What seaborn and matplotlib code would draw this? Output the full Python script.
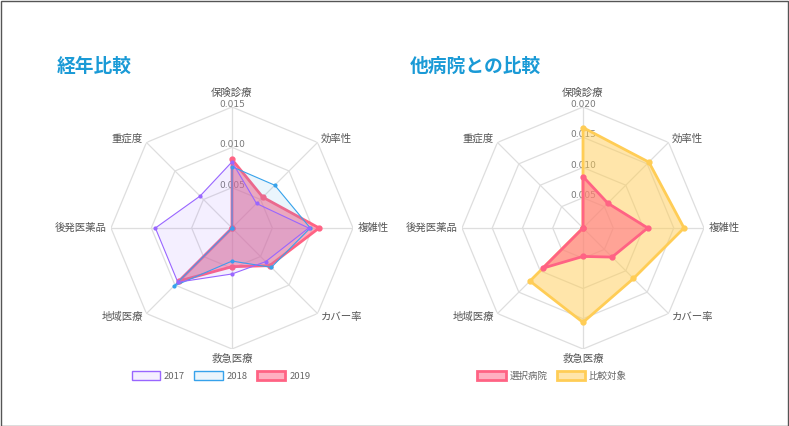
import numpy as np
import matplotlib
matplotlib.use("Agg")
import matplotlib.pyplot as plt
import seaborn as sns
from matplotlib.patches import Patch, Rectangle

sns.set_theme(style="white")
plt.rcParams['font.family'] = ['Noto Sans CJK JP', 'DejaVu Sans']

categories = ["保険診療", "効率性", "複雑性", "カバー率", "救急医療", "地域医療", "後発医薬品", "重症度"]

y2017 = [0.0082, 0.0043, 0.0095, 0.0059, 0.0057, 0.0095, 0.0095, 0.0056]
y2018 = [0.0076, 0.0075, 0.0097, 0.0069, 0.0041, 0.0102, 0.0, 0.0]
y2019 = [0.0085, 0.0054, 0.0108, 0.0066, 0.0048, 0.0093, 0.0, 0.0]

selected = [0.0085, 0.0058, 0.0107, 0.0068, 0.0047, 0.0094, 0.0, 0.0]
compare = [0.0166, 0.0154, 0.0167, 0.0118, 0.0156, 0.0124, 0.0, 0.0]

left_ticks = [0.005, 0.010, 0.015]
right_ticks = [0.005, 0.010, 0.015, 0.020]

W, H = 789, 426
fig = plt.figure(figsize=(W / 100, H / 100), dpi=100)
fig.patch.set_facecolor("white")
fig.add_artist(Rectangle((0.5 / W, 0.5 / H), 1 - 1.5 / W, 1 - 1.5 / H, transform=fig.transFigure,
                         fill=False, edgecolor="#555555", lw=1))

n = len(categories)
theta = np.arange(n) * 2 * np.pi / n
theta_c = np.append(theta, theta[0])

GRID = "#dedede"
TXT = "#555555"


def make_ax(cx, cy, rpx, ticks):
    ax = fig.add_axes([(cx - rpx) / W, (H - cy - rpx) / H, 2 * rpx / W, 2 * rpx / H], projection="polar")
    ax.set_theta_zero_location("N")
    ax.set_theta_direction(-1)
    rmax = ticks[-1]
    ax.set_ylim(0, rmax)
    ax.grid(False)
    ax.spines["polar"].set_visible(False)
    ax.set_xticks([])
    ax.set_yticks([])
    ax.patch.set_alpha(0)
    for r in ticks:
        ax.plot(theta_c, [r] * (n + 1), color=GRID, lw=0.9, zorder=1)
    for t in theta:
        ax.plot([t, t], [0, rmax], color=GRID, lw=0.9, zorder=1)
    for r in ticks:
        ax.text(0, r + rmax * 0.02, f"{r:.3f}", ha="center", va="center", fontsize=6.5, color="#777777",
                zorder=2, family=['DejaVu Sans'])
    for t, lab in zip(theta, categories):
        deg = np.degrees(t) % 360
        off = 1.04
        if deg < 1 or deg > 359:
            ha, va = "center", "bottom"
            off = 1.075
        elif abs(deg - 180) < 1:
            ha, va = "center", "top"
        elif deg < 180:
            ha, va = "left", "center"
        else:
            ha, va = "right", "center"
        ax.text(t, rmax * off, lab, ha=ha, va=va, fontsize=7.5, color=TXT, zorder=3)
    return ax


def series(ax, vals, color, fill_alpha, lw, ms, z):
    v = list(vals) + [vals[0]]
    ax.fill(theta_c, v, color=color, alpha=fill_alpha, lw=0, zorder=z)
    ax.plot(theta_c, v, color=color, lw=lw, zorder=z + 0.1)
    ax.plot(theta, vals, "o", color=color, ms=ms, zorder=z + 0.2)


purple = "#9966ff"
blue = "#36a2eb"
red = "#ff6384"
yellow = "#ffcd56"

# Left chart (first dataset drawn on top)
axL = make_ax(232, 228, 121, left_ticks)
series(axL, y2019, red, 0.55, 2.0, 3.5, 4)
series(axL, y2018, blue, 0.1, 0.8, 2.0, 5)
series(axL, y2017, purple, 0.1, 0.8, 2.0, 6)

# Right chart
axR = make_ax(583, 228, 121, right_ticks)
series(axR, compare, yellow, 0.5, 2.0, 3.5, 4)
series(axR, selected, red, 0.5, 2.0, 3.5, 5)

# Titles
title_color = "#1a9ad6"
fig.text(57 / W, 1 - 66 / H, "経年比較", fontsize=13.5, fontweight="bold", color=title_color, va="center", ha="left")
fig.text(410 / W, 1 - 66 / H, "他病院との比較", fontsize=13.5, fontweight="bold", color=title_color, va="center", ha="left")


# Legends
def legend(labels, colors, alphas, lws, cx):
    handles = [Patch(facecolor=matplotlib.colors.to_rgba(c, a), edgecolor=c, lw=lw)
               for c, a, lw in zip(colors, alphas, lws)]
    fig.legend(handles, labels, loc="center", bbox_to_anchor=(cx / W, 1 - 376 / H), ncol=len(labels),
               frameon=False, fontsize=6.8, handlelength=3.0, handleheight=1.0, columnspacing=1.0,
               handletextpad=0.4, labelcolor="#666666")


legend(["2017", "2018", "2019"], [purple, blue, red], [0.1, 0.1, 0.5], [1, 1, 2], 221)
legend(["選択病院", "比較対象"], [red, yellow], [0.5, 0.5], [2, 2], 552)

fig.savefig("out.png", dpi=100)
